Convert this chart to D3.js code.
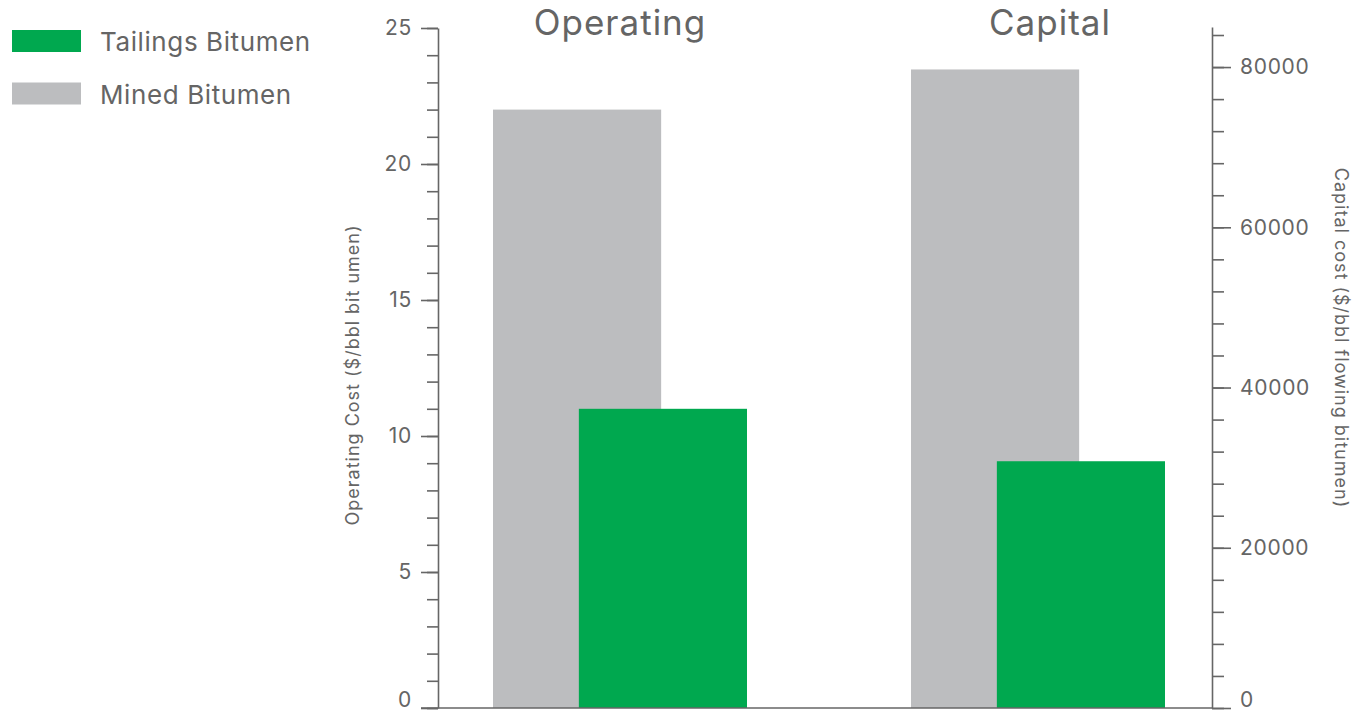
<!DOCTYPE html>
<html>
<head>
<meta charset="utf-8">
<script src="https://cdn.jsdelivr.net/npm/d3@7"></script>
<style>
  html, body { margin: 0; padding: 0; background: #fff; }
  svg { display: block; font-family: "Inter", "Lato", sans-serif; }
</style>
</head>
<body>
<svg id="chart" width="1357" height="711"></svg>
<script>
// Cost categories and the two bitumen sources
const categories = ["Operating", "Capital"];
const seriesNames = ["Mined Bitumen", "Tailings Bitumen"];
// Operating cost, $/bbl bitumen
const operatingValues = [22, 11];
// Capital cost, $/bbl flowing bitumen
const capitalValues = [79700, 30800];
// Axis ticks
const leftTicks = [0, 5, 10, 15, 20, 25];
const rightTicks = [0, 20000, 40000, 60000, 80000];
// Legend order, top to bottom
const legendOrder = ["Tailings Bitumen", "Mined Bitumen"];

const colors = { "Mined Bitumen": "#bcbdbf", "Tailings Bitumen": "#00a84f" };
const textColor = "#656565";
const axisColor = "#666";

const svg = d3.select("#chart");
const yTop = 28, yBase = 708;

const yLeft = d3.scaleLinear().domain([0, 25]).range([yBase, yTop]);
const yRight = d3.scaleLinear().domain([0, 85000]).range([yBase, 27]);

// Category bands; the two series overlap inside each band
const x = d3.scaleBand().domain(categories).range([493, 1165]).paddingInner(164 / 418).paddingOuter(0);
const bw = x.bandwidth();
const barW = bw * 0.662;
const xs = d3.scalePoint().domain(seriesNames).range([0, bw - barW]);

const rows = [
  { cat: "Operating", scale: yLeft, values: operatingValues },
  { cat: "Capital", scale: yRight, values: capitalValues }
];

// Bars: mined first (behind), tailings in front with an offset
rows.forEach(r => {
  svg.append("g").selectAll("rect")
    .data(seriesNames.map((s, i) => ({ s, v: r.values[i] })))
    .join("rect")
    .attr("x", d => x(r.cat) + xs(d.s))
    .attr("width", barW)
    .attr("y", d => r.scale(d.v))
    .attr("height", d => yBase - r.scale(d.v))
    .attr("fill", d => colors[d.s]);
});

// Baseline
svg.append("line")
  .attr("x1", 421).attr("x2", 1213)
  .attr("y1", yBase).attr("y2", yBase)
  .attr("stroke", axisColor).attr("stroke-width", 1.6);

function styleAxis(g) {
  g.selectAll("path.domain").attr("stroke", axisColor).attr("stroke-width", 1.6);
  g.selectAll("line").attr("stroke", axisColor).attr("stroke-width", 1.6);
  g.selectAll("text").attr("fill", textColor)
    .style("font-size", "21px").style("letter-spacing", "0.7px")
    .style("font-family", "Inter, Lato, sans-serif");
  // keep the zero label inside the frame
  g.selectAll(".tick").filter(d => d === 0).select("text").attr("dy", "-0.05em");
}

// Left axis: minor ticks every 1
const leftAxisX = 438;
const gLm = svg.append("g").attr("transform", `translate(${leftAxisX},0)`)
  .call(d3.axisLeft(yLeft).tickValues(d3.range(0, 26, 1)).tickSize(11).tickFormat("").tickSizeOuter(0));
const gL = svg.append("g").attr("transform", `translate(${leftAxisX},0)`)
  .call(d3.axisLeft(yLeft).tickValues(leftTicks).tickSize(17).tickPadding(9).tickSizeOuter(0));
styleAxis(gLm); styleAxis(gL);
gL.select("path.domain").remove();

// Right axis: minor ticks every 4000
const rightAxisX = 1212;
const gRm = svg.append("g").attr("transform", `translate(${rightAxisX},0)`)
  .call(d3.axisRight(yRight).tickValues(d3.range(0, 85000, 4000)).tickSize(12).tickFormat("").tickSizeOuter(0));
const gR = svg.append("g").attr("transform", `translate(${rightAxisX},0)`)
  .call(d3.axisRight(yRight).tickValues(rightTicks).tickSize(19).tickPadding(9).tickFormat(d3.format("d")).tickSizeOuter(0));
styleAxis(gRm); styleAxis(gR);
gR.select("path.domain").remove();

// Panel titles
const titleOffset = { "Operating": 0, "Capital": 12 };
svg.selectAll("text.title")
  .data(categories)
  .join("text")
  .attr("class", "title")
  .attr("x", d => x(d) + bw / 2 + titleOffset[d])
  .attr("y", 35)
  .attr("text-anchor", "middle")
  .attr("fill", textColor)
  .style("font-size", "35px")
  .style("letter-spacing", "1px")
  .text(d => d);

// Axis titles
svg.append("text")
  .attr("transform", `translate(359,375) rotate(-90)`)
  .attr("text-anchor", "middle")
  .attr("fill", textColor)
  .style("font-size", "18px")
  .style("letter-spacing", "1px")
  .text("Operating Cost ($/bbl bit umen)");

svg.append("text")
  .attr("transform", `translate(1335,338) rotate(90)`)
  .attr("text-anchor", "middle")
  .attr("fill", textColor)
  .style("font-size", "18px")
  .style("letter-spacing", "1px")
  .text("Capital cost ($/bbl flowing bitumen)");

// Legend
const legend = svg.append("g").selectAll("g")
  .data(legendOrder)
  .join("g")
  .attr("transform", (d, i) => `translate(12,${30 + i * 52.5})`);
legend.append("rect")
  .attr("width", 69).attr("height", 22)
  .attr("fill", d => colors[d]);
legend.append("text")
  .attr("x", 88).attr("y", 21)
  .attr("fill", textColor)
  .style("font-size", "26px")
  .style("letter-spacing", "0.6px")
  .text(d => d);
</script>
</body>
</html>
